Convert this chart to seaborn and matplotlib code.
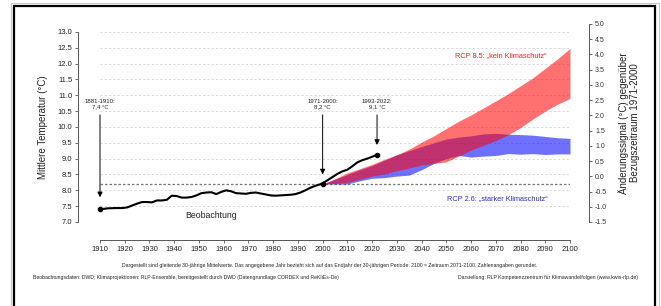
import matplotlib
matplotlib.use("Agg")
import matplotlib.pyplot as plt
from matplotlib.patches import Rectangle
import seaborn as sns
import pandas as pd

# ---------------- data ----------------
obs_years = [1910, 1913, 1916, 1919, 1921, 1923, 1925, 1927, 1929, 1931, 1933, 1935, 1937,
             1939, 1941, 1943, 1945, 1947, 1949, 1951, 1953, 1955, 1957, 1959, 1961, 1963,
             1965, 1967, 1969, 1971, 1973, 1975, 1977, 1979, 1981, 1983, 1985, 1987, 1989,
             1991, 1993, 1995, 1997, 1999, 2000, 2002, 2004, 2006, 2008, 2010, 2012, 2014,
             2016, 2018, 2020, 2022]
obs_temp = [7.40, 7.43, 7.44, 7.44, 7.46, 7.52, 7.58, 7.63, 7.63, 7.62, 7.68, 7.68, 7.70,
            7.83, 7.82, 7.77, 7.77, 7.79, 7.84, 7.91, 7.93, 7.94, 7.88, 7.95, 8.00, 7.97,
            7.91, 7.90, 7.89, 7.92, 7.93, 7.90, 7.87, 7.84, 7.83, 7.84, 7.85, 7.86, 7.88,
            7.93, 8.00, 8.08, 8.14, 8.19, 8.22, 8.32, 8.42, 8.52, 8.60, 8.65, 8.76, 8.88,
            8.95, 9.00, 9.06, 9.12]

proj_years = [2000, 2005, 2010, 2015, 2020, 2025, 2030, 2035, 2040, 2045, 2050,
              2055, 2060, 2065, 2070, 2075, 2080, 2085, 2090, 2095, 2100]
rcp85_high = [8.20, 8.36, 8.55, 8.68, 8.82, 8.98, 9.12, 9.30, 9.52, 9.72, 9.95,
              10.18, 10.38, 10.60, 10.82, 11.05, 11.30, 11.55, 11.85, 12.15, 12.48]
rcp85_low = [8.20, 8.22, 8.25, 8.35, 8.45, 8.52, 8.62, 8.70, 8.80, 8.85, 8.90,
             9.08, 9.27, 9.42, 9.57, 9.75, 9.98, 10.25, 10.50, 10.72, 10.90]
rcp26_high = [8.20, 8.35, 8.50, 8.65, 8.78, 8.95, 9.12, 9.25, 9.38, 9.50, 9.62,
              9.68, 9.72, 9.78, 9.80, 9.77, 9.76, 9.74, 9.70, 9.66, 9.64]
rcp26_low = [8.20, 8.20, 8.20, 8.30, 8.38, 8.40, 8.45, 8.48, 8.65, 8.85, 9.00,
             9.10, 9.05, 9.08, 9.10, 9.16, 9.14, 9.16, 9.13, 9.15, 9.15]

ref_value = 8.2
ann_years = [1910, 2000, 2022]
ann_values = [7.4, 8.2, 9.1]
ann_labels = ["1881-1910:\n7,4 °C", "1971-2000:\n8,2 °C", "1993-2022:\n9,1 °C"]
ann_tip = [7.78, 8.50, 9.43]
ann_start = 10.38

x_ticks = list(range(1910, 2101, 10))
left_ticks = [7.0, 7.5, 8.0, 8.5, 9.0, 9.5, 10.0, 10.5, 11.0, 11.5, 12.0, 12.5, 13.0]
right_ticks = [-1.5, -1.0, -0.5, 0.0, 0.5, 1.0, 1.5, 2.0, 2.5, 3.0, 3.5, 4.0, 4.5, 5.0]

# ---------------- style ----------------
sns.set_theme(style="white")
plt.rcParams["font.family"] = ["Liberation Sans", "DejaVu Sans"]
plt.rcParams["axes.unicode_minus"] = False

W, H = 661, 306
fig = plt.figure(figsize=(W / 100, H / 100), dpi=100)

def fx(x):
    return x / W

def fy(y):
    return 1 - y / H

ax = fig.add_axes([fx(100), fy(222), fx(470), (222 - 24) / H])
ax.set_xlim(1910, 2100)
ax.set_ylim(7.0, 13.25)

# grid lines
for v in left_ticks:
    ax.axhline(v, color="#d9d9d9", lw=0.7, ls=(0, (2.2, 2.2)), zorder=0)
ax.axhline(ref_value, color="#777777", lw=0.9, ls=(0, (2, 1.6)), zorder=1)

# projections
ax.fill_between(proj_years, rcp26_low, rcp26_high, color=(0, 0, 1), alpha=0.56, lw=0, zorder=2)
ax.fill_between(proj_years, rcp85_low, rcp85_high, color=(1, 0, 0), alpha=0.56, lw=0, zorder=3)

# observation
obs = pd.DataFrame({"year": obs_years, "temp": obs_temp})
sns.lineplot(data=obs, x="year", y="temp", ax=ax, color="black", lw=1.5, zorder=5)
ax.scatter(ann_years, ann_values, s=9, color="black", zorder=6, clip_on=False)

# annotations
for yr, lab, tip in zip(ann_years, ann_labels, ann_tip):
    ax.annotate("", xy=(yr, tip), xytext=(yr, ann_start),
                arrowprops=dict(arrowstyle="-|>", color="black", lw=0.7,
                                mutation_scale=7.5, shrinkA=0, shrinkB=0), zorder=7)
    ax.text(yr, 10.72, lab, ha="center", va="center", fontsize=4.3,
            color="#222222", linespacing=1.25)

ax.text(1955, 7.19, "Beobachtung", ha="center", va="center", fontsize=6.3, color="#222222")
ax.text(2090.5, 12.24, "RCP 8.5: \u201ekein Klimaschutz\u201c", ha="right", va="center",
        fontsize=5.3, color="#e8252a")
ax.text(2091, 7.73, "RCP 2.6: \u201estarker Klimaschutz\u201c", ha="right", va="center",
        fontsize=5.3, color="#2b2bd6")

# axes styling
spine_col = "#555555"
ax.set_xticks(x_ticks)
ax.set_xticklabels([str(t) for t in x_ticks])
ax.set_yticks(left_ticks)
ax.set_yticklabels([f"{t:.1f}" for t in left_ticks])
ax.set_xlabel("")
ax.set_ylabel("")
for s in ["top", "right"]:
    ax.spines[s].set_visible(False)
ax.spines["left"].set_position(("outward", 16))
ax.spines["bottom"].set_position(("outward", 13))
ax.spines["left"].set_bounds(7.0, 13.0)
ax.spines["bottom"].set_bounds(1910, 2100)
for s in ["left", "bottom"]:
    ax.spines[s].set_color(spine_col)
    ax.spines[s].set_linewidth(0.7)
ax.tick_params(axis="both", which="major", direction="out", length=2.5, width=0.6,
               color=spine_col, labelsize=5.5, labelcolor="#222222", pad=1.5,
               left=True, bottom=True)

ax2 = ax.twinx()
ax2.set_ylim(-1.5, 5.0)
ax2.set_yticks(right_ticks)
ax2.set_yticklabels([f"{t:.1f}" for t in right_ticks])
for s in ["top", "left", "bottom"]:
    ax2.spines[s].set_visible(False)
ax2.spines["right"].set_position(("outward", 14))
ax2.spines["right"].set_color(spine_col)
ax2.spines["right"].set_linewidth(0.7)
ax2.tick_params(axis="y", direction="out", length=2.5, width=0.6, color=spine_col,
                labelsize=5, labelcolor="#333333", pad=1.5, right=True)
ax2.grid(False)

# axis titles
fig.text(fx(43), fy(127), "Mittlere Temperatur (°C)", rotation=90, ha="center",
         va="center", fontsize=7, color="#222222")
fig.text(fx(629), fy(123), "Änderungssignal (°C) gegenüber\nBezugszeitraum 1971-2000",
         rotation=90, ha="center", va="center", fontsize=7, color="#222222",
         linespacing=1.1)

# footer
fig.text(fx(330), fy(266), "Dargestellt sind gleitende 30-jährige Mittelwerte. Das angegebene Jahr "
         "bezieht sich auf das Endjahr der 30-jährigen Periode: 2100 = Zeitraum 2071-2100. "
         "Zahlenangaben gerundet.", ha="center", va="center", fontsize=3.7, color="#222222")
fig.text(fx(33), fy(278), "Beobachtungsdaten: DWD; Klimaprojektionen: RLP-Ensemble, bereitgestellt "
         "durch DWD (Datengrundlage CORDEX und ReKliEs-De)", ha="left", va="center",
         fontsize=3.7, color="#222222")
fig.text(fx(638), fy(278), "Darstellung: RLP Kompetenzzentrum für Klimawandelfolgen (www.kwis-rlp.de)",
         ha="right", va="center", fontsize=3.7, color="#222222")

# frame (open at the bottom edge of the picture)
fig.add_artist(Rectangle((fx(11), -0.2), fx(648), fy(2.5) + 0.2,
                         transform=fig.transFigure, fill=False, edgecolor="#c8c8c8", lw=0.8))
fig.add_artist(Rectangle((fx(14), -0.2), fx(641), fy(6) + 0.2,
                         transform=fig.transFigure, fill=False, edgecolor="black", lw=1.6))

fig.savefig("out.png", dpi=100)
